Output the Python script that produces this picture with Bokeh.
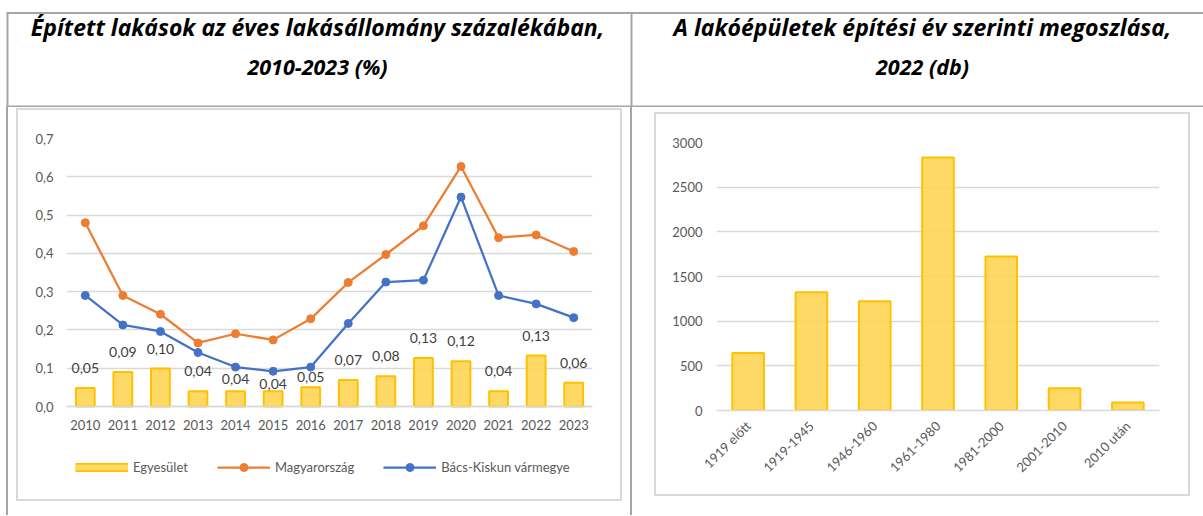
import math
from bokeh.plotting import figure
from bokeh.models import (Range1d, FactorRange, Label, Legend, LegendItem,
                          CustomJSTickFormatter, FixedTicker, Spacer, ColumnDataSource)
from bokeh.layouts import column, row
from bokeh.embed import file_html
from bokeh.resources import INLINE
from bokeh.core.properties import value

# ---------------- data ----------------
years = [str(y) for y in range(2010, 2024)]
egyesulet = [0.048, 0.09, 0.099, 0.04, 0.04, 0.04, 0.05, 0.069, 0.079, 0.127, 0.118, 0.04, 0.133, 0.062]
egyesulet_labels = ["0,05", "0,09", "0,10", "0,04", "0,04", "0,04", "0,05",
                    "0,07", "0,08", "0,13", "0,12", "0,04", "0,13", "0,06"]
magyarorszag = [0.48, 0.29, 0.241, 0.166, 0.19, 0.174, 0.229, 0.324, 0.397, 0.472, 0.627, 0.441, 0.448, 0.405]
bacs_kiskun = [0.29, 0.213, 0.196, 0.141, 0.103, 0.092, 0.103, 0.217, 0.325, 0.33, 0.547, 0.29, 0.268, 0.232]

periods = ["1919 előtt", "1919-1945", "1946-1960", "1961-1980", "1981-2000", "2001-2010", "2010 után"]
buildings = [645, 1323, 1223, 2833, 1723, 250, 90]

title_left = ["Épített lakások az éves lakásállomány százalékában,", "2010-2023 (%)"]
title_right = ["A lakóépületek építési év szerinti megoszlása,", "2022 (db)"]

# label lift above bar top (px) - style only
label_lift_px = [20, 20, 20, 20, 12, 7, 10, 20, 20, 20, 20, 20, 20, 20]

# ---------------- styles ----------------
FONT = "Lato"
TITLE_FONT = "Open Sans"
TABLE_GREY = "#A5A5A5"
GRID = "#D9D9D9"
TICK_TXT = "#595959"
BAR_FILL = "#FFD555"
BAR_LINE = "#FFC000"
ORANGE = "#ED7D31"
BLUE = "#4472C4"
TICK_FS = "13px"

# ---------------- header ----------------
hdr = figure(width=1203, height=107, x_range=Range1d(0, 1203), y_range=Range1d(107, 0),
             min_border=0, toolbar_location=None, output_backend="svg",
             x_axis_type=None, y_axis_type=None, outline_line_color=None)
hdr.grid.visible = False
hdr.segment(x0=[6, 6, 7, 631], y0=[12.5, 106, 12, 12], x1=[1203, 1203, 7, 631], y1=[12.5, 106, 107, 107],
            line_color=TABLE_GREY, line_width=2)
for cx, lines in ((317, title_left), (922, title_right)):
    for ly, txt, fs in zip((26, 65.5), lines, ("23px", "21.5px")):
        hdr.add_layout(Label(x=cx, y=ly, text=txt, text_align="center", text_baseline="middle",
                             text_font=TITLE_FONT, text_font_style="bold italic", text_font_size=fs,
                             text_color="black"))

# ---------------- left chart ----------------
# frame spans 0.7 (top) down below zero to leave room for the legend inside the frame
Y_MIN = -0.7 * (342 / 268 - 1)
src1 = ColumnDataSource(dict(year=years, egy=egyesulet, lab=egyesulet_labels, mo=magyarorszag,
                             bk=bacs_kiskun, off=[-v for v in label_lift_px]))
p1 = figure(x_range=FactorRange(*years), y_range=Range1d(Y_MIN, 0.7), width=606, height=393,
            min_border_left=50, min_border_right=30, min_border_top=30, min_border_bottom=21,
            output_backend="svg", toolbar_location=None, background_fill_color=None,
            border_fill_color=None, outline_line_color=None)
p1.styles = {"box-shadow": "inset 0 0 0 2px #D9D9D9"}
p1.xgrid.grid_line_color = None
p1.ygrid.grid_line_color = GRID
p1.ygrid.grid_line_width = 1.5
p1.ygrid.ticker = FixedTicker(ticks=[i / 10 for i in range(8)])
p1.yaxis.ticker = FixedTicker(ticks=[i / 10 for i in range(8)])
p1.yaxis.formatter = CustomJSTickFormatter(code="return tick.toFixed(1).replace('.', ',')")
for ax in (p1.xaxis[0], p1.yaxis[0]):
    ax.major_tick_line_color = None
    ax.major_tick_out = 0
    ax.major_tick_in = 0
    ax.minor_tick_line_color = None
    ax.minor_tick_out = 0
    ax.major_label_text_font = FONT
    ax.major_label_text_font_size = TICK_FS
    ax.major_label_text_color = TICK_TXT
    ax.major_label_standoff = 13
p1.yaxis.axis_line_color = None
p1.xaxis.axis_line_color = GRID
p1.xaxis.axis_line_width = 1.5
p1.xaxis.major_label_standoff = 13
p1.xaxis.fixed_location = 0

bars1 = p1.vbar(x="year", top="egy", width=0.5, source=src1, fill_color=BAR_FILL, fill_alpha=0.9,
                line_color=BAR_LINE, line_width=2)
l_mo = p1.line(x="year", y="mo", source=src1, line_color=ORANGE, line_width=2.25, line_join="round")
s_mo = p1.scatter(x="year", y="mo", source=src1, size=8, fill_color=ORANGE, line_color=ORANGE)
l_bk = p1.line(x="year", y="bk", source=src1, line_color=BLUE, line_width=2.25, line_join="round")
s_bk = p1.scatter(x="year", y="bk", source=src1, size=8, fill_color=BLUE, line_color=BLUE)
p1.text(x="year", y="egy", text="lab", y_offset="off", source=src1, text_align="center",
        text_baseline="middle", text_font=value(FONT), text_font_size="14px", text_color="#404040")

# legend swatch for the bar series (renderers with no drawable point, shown only in the legend)
blank = ColumnDataSource(dict(x=[years[0]], y=[float("nan")]))
sw_border = p1.line(x="x", y="y", source=blank, line_color=BAR_LINE, line_width=9)
sw_fill = p1.line(x="x", y="y", source=blank, line_color="#FFD966", line_width=5.5)

leg = Legend(items=[LegendItem(label="Egyesület", renderers=[sw_border, sw_fill]),
                    LegendItem(label="Magyarország", renderers=[l_mo, s_mo]),
                    LegendItem(label="Bács-Kiskun vármegye", renderers=[l_bk, s_bk])],
             location=(9, 3), orientation="horizontal", glyph_width=53, glyph_height=20,
             label_height=20, label_standoff=5, spacing=29, padding=0, margin=0,
             border_line_color=None, background_fill_alpha=0,
             label_text_font=FONT, label_text_font_size="13px", label_text_color=TICK_TXT)
p1.add_layout(leg)

# ---------------- right chart ----------------
src2 = ColumnDataSource(dict(period=periods, n=buildings))
p2 = figure(x_range=FactorRange(*periods), y_range=Range1d(0, 3000), width=536, height=384,
            min_border_left=62, min_border_right=31, min_border_top=30, min_border_bottom=86,
            output_backend="svg", toolbar_location=None, background_fill_color=None,
            border_fill_color=None, outline_line_color=None)
p2.styles = {"box-shadow": "inset 0 0 0 2px #D9D9D9"}
p2.xgrid.grid_line_color = None
p2.ygrid.grid_line_color = GRID
p2.ygrid.grid_line_width = 1.5
p2.yaxis.ticker = FixedTicker(ticks=[0, 500, 1000, 1500, 2000, 2500, 3000])
for ax in (p2.xaxis[0], p2.yaxis[0]):
    ax.major_tick_line_color = None
    ax.major_tick_out = 0
    ax.major_tick_in = 0
    ax.minor_tick_line_color = None
    ax.minor_tick_out = 0
    ax.major_label_text_font = FONT
    ax.major_label_text_font_size = TICK_FS
    ax.major_label_text_color = TICK_TXT
    ax.major_label_standoff = 14
p2.yaxis.axis_line_color = None
p2.xaxis.axis_line_color = GRID
p2.xaxis.axis_line_width = 1.5
p2.xaxis.major_label_orientation = math.pi / 4
p2.xaxis.major_label_standoff = 13
p2.vbar(x="period", top="n", width=0.5, source=src2, fill_color=BAR_FILL, fill_alpha=0.9,
        line_color=BAR_LINE, line_width=2)

# ---------------- layout ----------------
BODY_H = 408

def vline():
    return Spacer(width=2, height=BODY_H, styles={"background-color": TABLE_GREY})

body = row(Spacer(width=6, height=10), vline(), Spacer(width=8, height=10),
           column(Spacer(width=10, height=1), p1),
           Spacer(width=8, height=10), vline(), Spacer(width=22, height=10),
           column(Spacer(width=10, height=5), p2))
layout = column(hdr, body)

open("out.html", "w").write(file_html(layout, INLINE))
